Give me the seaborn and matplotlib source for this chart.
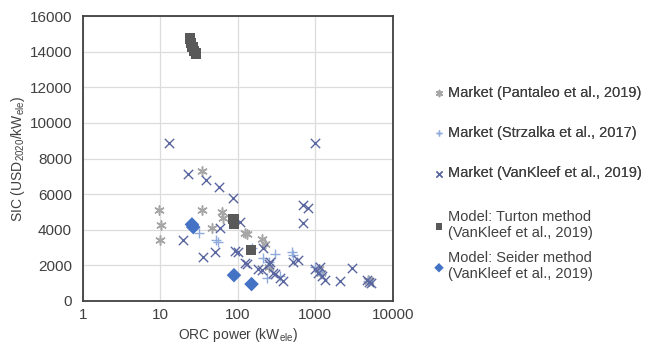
import numpy as np
import pandas as pd
import matplotlib
matplotlib.use("Agg")
import matplotlib.pyplot as plt
import seaborn as sns

# Market data: ORC power (kWe) and specific investment cost (USD2020/kWe)
pantaleo_power = [9.6, 10.2, 9.8, 34, 34, 62, 64, 47, 123, 130, 204, 225, 250, 1100, 1200, 4800, 5000]
pantaleo_sic = [5100, 4250, 3450, 7300, 5100, 5000, 4650, 4100, 3800, 3750, 3500, 3200, 1900, 1800, 1600, 1200, 1100]

strzalka_power = [31, 55, 52, 210, 300, 495, 236, 150, 1000, 1100, 1200, 4800, 350, 250, 520]
strzalka_sic = [3800, 3300, 3400, 2400, 2650, 2750, 1300, 3000, 1900, 1700, 1500, 1100, 1400, 2200, 2600]

vankleef_power = [13, 986, 22.6, 38.6, 57, 87, 690, 800, 690, 19.5, 35, 50, 59, 106, 100, 91,
                  130, 123, 210, 204, 250, 260, 280, 300, 350, 380, 510, 600, 986, 1080, 1140,
                  1210, 1320, 2060, 3000, 4700, 5000, 5200, 180]
vankleef_sic = [8850, 8850, 7130, 6800, 6400, 5780, 5400, 5200, 4400, 3450, 2450, 2750, 4100, 4450,
                2750, 2800, 2100, 2150, 3000, 1750, 2050, 2200, 1570, 1500, 1300, 1100, 2200, 2300,
                1800, 1600, 1900, 1400, 1200, 1100, 1850, 1200, 1050, 1000, 1800]

# Cost-model estimates
turton_power = [24, 25, 26, 27, 28.5, 88, 90, 147]
turton_sic = [14750, 14500, 14250, 14050, 13900, 4600, 4350, 2850]

seider_power = [25.5, 26.5, 89, 150]
seider_sic = [4300, 4150, 1450, 950]

series_labels = [
    "Market (Pantaleo et al., 2019)",
    "Market (Strzalka et al., 2017)",
    "Market (VanKleef et al., 2019)",
    "Model: Turton method\n(VanKleef et al., 2019)",
    "Model: Seider method\n(VanKleef et al., 2019)",
]

frames = []
for lab, p, s in zip(series_labels,
                     [pantaleo_power, strzalka_power, vankleef_power, turton_power, seider_power],
                     [pantaleo_sic, strzalka_sic, vankleef_sic, turton_sic, seider_sic]):
    frames.append(pd.DataFrame({"power": p, "sic": s, "series": lab}))
df = pd.concat(frames, ignore_index=True)

sns.set_theme(style="white")
plt.rcParams["font.family"] = ["Liberation Sans", "DejaVu Sans"]

fig = plt.figure(figsize=(6.46, 3.5), dpi=100)
ax = fig.add_axes([0.1285, 0.14, 0.4795, 0.814])

styles = {
    series_labels[0]: dict(marker=(6, 2, 0), color="#a6a6a6", s=45, linewidth=1.1),
    series_labels[1]: dict(marker="+", color="#8fabdc", s=55, linewidth=1.0),
    series_labels[2]: dict(marker="x", color="#5a66a0", s=45, linewidth=1.0),
    series_labels[3]: dict(marker="s", color="#595959", s=55, linewidth=0),
    series_labels[4]: dict(marker="D", color="#4472c4", s=55, linewidth=0),
}

for lab in series_labels:
    st = styles[lab]
    sns.scatterplot(data=df[df["series"] == lab], x="power", y="sic", ax=ax,
                    marker=st["marker"], color=st["color"], s=st["s"],
                    linewidth=st["linewidth"], edgecolor=st["color"] if st["linewidth"] else "none",
                    label=lab, zorder=3)

ax.set_xscale("log")
ax.set_xlim(1, 10000)
ax.set_ylim(0, 16000)
ax.set_yticks(np.arange(0, 16001, 2000))
ax.set_xticks([1, 10, 100, 1000, 10000])
ax.set_xticklabels(["1", "10", "100", "1000", "10000"])
ax.minorticks_off()

ax.grid(True, color="#dcdcdc", linewidth=0.9, zorder=0)
ax.set_axisbelow(True)
for sp in ax.spines.values():
    sp.set_color("#404040")
    sp.set_linewidth(1.3)

ax.tick_params(axis="both", labelsize=11, colors="#404040", length=0)
ax.tick_params(axis="x", pad=5)
ax.tick_params(axis="y", pad=8)
ax.set_xlabel("ORC power (kW$_{\\mathregular{ele}}$)", fontsize=10, color="#404040", labelpad=3)
ax.set_ylabel("SIC (USD$_{\\mathregular{2020}}$/kW$_{\\mathregular{ele}}$)", fontsize=10,
              color="#404040", labelpad=2)

# Legend: market series and model series in two stacked blocks
handles, labels = ax.get_legend_handles_labels()
common = dict(frameon=False, fontsize=10.5, handlelength=0.6, handletextpad=0.3,
              markerscale=0.65, borderaxespad=0, borderpad=0.3,
              loc="upper left", bbox_transform=fig.transFigure)
leg1 = ax.legend(handles[:3], labels[:3], bbox_to_anchor=(0.666, 0.767),
                 labelspacing=1.8, **common)
ax.add_artist(leg1)
leg2 = fig.legend(handles[3:], labels[3:], bbox_to_anchor=(0.666, 0.413),
                  labelspacing=0.75, **common)
for lg in (leg1, leg2):
    for txt in lg.get_texts():
        txt.set_color("#404040")

fig.savefig("out.png", dpi=100, facecolor="white")
